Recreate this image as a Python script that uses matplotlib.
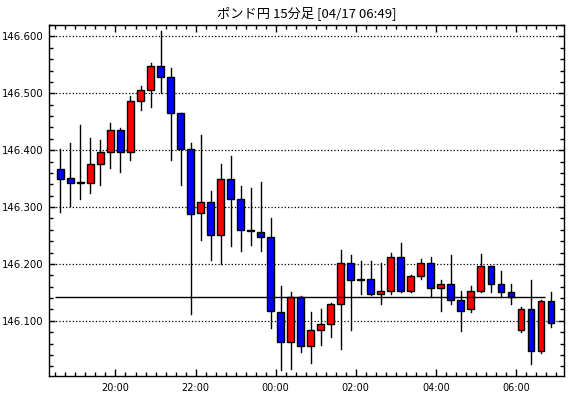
import matplotlib.pyplot as plt
import matplotlib.ticker as mticker
from matplotlib.patches import Rectangle

# 15-minute candles, GBP/JPY
times = ["18:30", "18:45", "19:00", "19:15", "19:30", "19:45", "20:00", "20:15", "20:30", "20:45",
         "21:00", "21:15", "21:30", "21:45", "22:00", "22:15", "22:30", "22:45", "23:00", "23:15",
         "23:30", "23:45", "00:00", "00:15", "00:30", "00:45", "01:00", "01:15", "01:30", "01:45",
         "02:00", "02:15", "02:30", "02:45", "03:00", "03:15", "03:30", "03:45", "04:00", "04:15",
         "04:30", "04:45", "05:00", "05:15", "05:30", "05:45", "06:00", "06:15", "06:30", "06:45"]
opens = [146.366, 146.351, 146.343, 146.342, 146.375, 146.397, 146.435, 146.397, 146.487, 146.506,
         146.548, 146.529, 146.465, 146.402, 146.289, 146.308, 146.250, 146.349, 146.314, 146.259,
         146.257, 146.247, 146.116, 146.063, 146.141, 146.056, 146.084, 146.095, 146.130, 146.202,
         146.173, 146.174, 146.148, 146.153, 146.213, 146.153, 146.178, 146.201, 146.158, 146.164,
         146.137, 146.120, 146.153, 146.197, 146.165, 146.151, 146.084, 146.121, 146.047, 146.134]
highs = [146.402, 146.413, 146.445, 146.421, 146.418, 146.448, 146.439, 146.496, 146.512, 146.554,
         146.609, 146.545, 146.465, 146.412, 146.427, 146.328, 146.376, 146.390, 146.337, 146.333,
         146.344, 146.280, 146.162, 146.151, 146.143, 146.116, 146.121, 146.132, 146.225, 146.215,
         146.206, 146.206, 146.201, 146.220, 146.236, 146.181, 146.208, 146.213, 146.172, 146.215,
         146.153, 146.162, 146.218, 146.197, 146.188, 146.164, 146.125, 146.172, 146.137, 146.151]
lows = [146.292, 146.302, 146.314, 146.324, 146.339, 146.369, 146.361, 146.382, 146.470, 146.475,
        146.501, 146.382, 146.338, 146.112, 146.242, 146.207, 146.199, 146.231, 146.222, 146.234,
        146.223, 146.087, 146.013, 146.015, 146.045, 146.025, 146.057, 146.071, 146.050, 146.084,
        146.148, 146.145, 146.129, 146.148, 146.150, 146.150, 146.174, 146.141, 146.118, 146.129,
        146.082, 146.116, 146.151, 146.150, 146.141, 146.130, 146.081, 146.024, 146.044, 146.089]
closes = [146.350, 146.342, 146.343, 146.375, 146.397, 146.435, 146.397, 146.487, 146.506, 146.548,
          146.529, 146.465, 146.402, 146.287, 146.308, 146.250, 146.349, 146.314, 146.259, 146.258,
          146.247, 146.118, 146.063, 146.141, 146.056, 146.084, 146.095, 146.130, 146.202, 146.172,
          146.172, 146.148, 146.153, 146.213, 146.153, 146.178, 146.201, 146.158, 146.164, 146.137,
          146.118, 146.153, 146.197, 146.165, 146.151, 146.142, 146.121, 146.047, 146.134, 146.097]
ref_price = 146.142
title = "ポンド円 15分足 [04/17 06:49]"

# time of day -> hours on a continuous axis (after midnight counts as next day)
def to_hours(t):
    hh, mm = map(int, t.split(":"))
    if hh < 18:
        hh += 24
    return hh + mm / 60

fig = plt.figure(figsize=(5.7, 3.98), dpi=100)
ax = fig.add_axes([49 / 570, 22 / 398, 515 / 570, 351 / 398])

body_w = 0.17
for t, o, h, l, c in zip(times, opens, highs, lows, closes):
    x = to_hours(t) + 0.125
    ax.plot([x, x], [l, h], color="black", lw=1.0, zorder=2)
    if c > o:
        color = "#ff0000"
    elif c < o:
        color = "#0000ff"
    else:
        color = "black"
    bottom = min(o, c)
    height = max(abs(c - o), 0.0008)
    ax.add_patch(Rectangle((x - body_w / 2, bottom), body_w, height,
                           facecolor=color, edgecolor="black", lw=1.0, zorder=3))

# reference line
ax.hlines(ref_price, 18.5, 30.72, color="black", lw=1.0, zorder=4)

ax.set_xlim(18.34, 31.2)
ax.set_ylim(146.003, 146.62)

# axes and ticks
ax.xaxis.set_major_locator(mticker.MultipleLocator(2))
ax.xaxis.set_minor_locator(mticker.MultipleLocator(0.25))
ax.xaxis.set_major_formatter(mticker.FuncFormatter(lambda v, p: f"{int(round(v)) % 24:02d}:00"))
ax.yaxis.set_major_locator(mticker.MultipleLocator(0.1))
ax.yaxis.set_minor_locator(mticker.MultipleLocator(0.02))
ax.yaxis.set_major_formatter(mticker.FormatStrFormatter("%.3f"))
ax.tick_params(which="both", direction="in", top=True, right=True, labelsize=7, colors="black", width=1)
ax.tick_params(which="major", length=5, pad=5)
ax.tick_params(which="minor", length=3)
ax.tick_params(axis="y", which="major", length=4, pad=4, labelsize=7.3)

ax.grid(axis="y", which="major", linestyle=":", color="black", lw=0.9)
for s in ax.spines.values():
    s.set_linewidth(1.0)

fig.text((49 + 564) / 2 / 570, 1 - 13 / 398, title, ha="center", va="center",
         fontsize=9.5, family=["Noto Sans CJK JP", "DejaVu Sans"])

fig.savefig("out.png", dpi=100)
